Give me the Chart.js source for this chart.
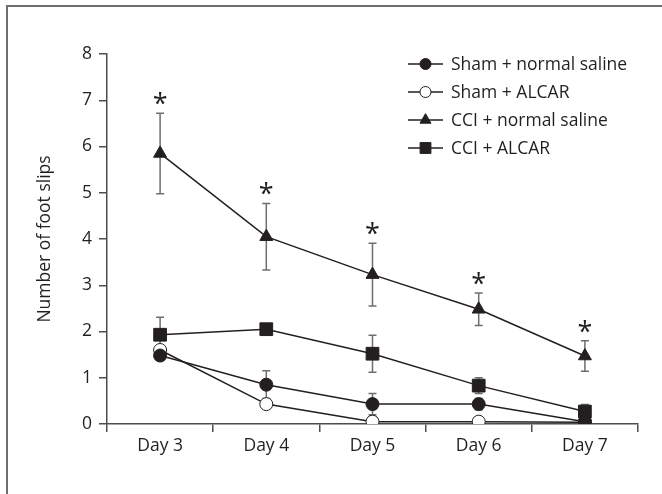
<!DOCTYPE html>
<html>
<head>
<meta charset="utf-8">
<script src="https://cdn.jsdelivr.net/npm/chart.js@4/dist/chart.umd.min.js"></script>
<style>
  html, body { margin: 0; padding: 0; background: #fff; }
  #wrap { width: 662px; height: 494px; position: relative; }
</style>
</head>
<body>
<div id="wrap"><canvas id="chart"></canvas></div>
<script>
// Data
const days = ['Day 3', 'Day 4', 'Day 5', 'Day 6', 'Day 7'];
const yTicks = [0, 1, 2, 3, 4, 5, 6, 7, 8];

const shamSaline = [1.48, 0.85, 0.43, 0.43, 0.05];
const shamSalineErr = [0.05, 0.3, 0.23, 0.12, 0.03];
const shamAlcar = [1.6, 0.43, 0.05, 0.05, 0.04];
const shamAlcarErr = [0.08, 0.03, 0.02, 0.02, 0.02];
const cciSaline = [5.85, 4.05, 3.23, 2.48, 1.47];
const cciSalineErr = [0.87, 0.72, 0.68, 0.35, 0.33];
const cciAlcar = [1.93, 2.05, 1.52, 0.83, 0.27];
const cciAlcarErr = [0.38, 0.08, 0.4, 0.17, 0.15];

// days marked as significant (CCI + normal saline)
const significant = [true, true, true, true, true];

const INK = '#231f20';
const FONT = "'Open Sans', sans-serif";
const FONT_SIZE = 17.5;

function series(label, data, err, style, radius, fill) {
    return {
        label: label,
        data: data,
        errors: err,
        borderColor: INK,
        borderWidth: 1.5,
        pointStyle: style,
        pointRadius: radius,
        pointHoverRadius: radius,
        pointBackgroundColor: fill,
        pointBorderColor: INK,
        pointBorderWidth: 1,
        tension: 0,
        fill: false
    };
}

// Outer frame (only top and left edges show in the crop)
const framePlugin = {
    id: 'frame',
    beforeDraw(chart) {
        const ctx = chart.ctx;
        ctx.save();
        ctx.strokeStyle = '#6d6e70';
        ctx.lineWidth = 2;
        ctx.beginPath();
        ctx.moveTo(7, 494);
        ctx.lineTo(7, 6);
        ctx.lineTo(662, 6);
        ctx.stroke();
        ctx.restore();
    }
};

// Error bars, drawn under the lines
const errorBarPlugin = {
    id: 'errorBars',
    beforeDatasetsDraw(chart) {
        const ctx = chart.ctx;
        const xs = chart.scales.x, ys = chart.scales.y;
        ctx.save();
        ctx.strokeStyle = '#6d6e70';
        ctx.lineWidth = 1.5;
        chart.data.datasets.forEach(ds => {
            ds.data.forEach((v, i) => {
                const e = ds.errors[i];
                const x = xs.getPixelForValue(i);
                const top = ys.getPixelForValue(v + e);
                const bot = ys.getPixelForValue(Math.max(v - e, 0));
                ctx.beginPath();
                ctx.moveTo(x, top); ctx.lineTo(x, bot);
                ctx.moveTo(x - 4, top); ctx.lineTo(x + 4, top);
                ctx.moveTo(x - 4, bot); ctx.lineTo(x + 4, bot);
                ctx.stroke();
            });
        });
        ctx.restore();
    }
};

// Asterisks above CCI + normal saline
const starPlugin = {
    id: 'stars',
    afterDatasetsDraw(chart) {
        const ctx = chart.ctx;
        const xs = chart.scales.x, ys = chart.scales.y;
        ctx.save();
        ctx.fillStyle = INK;
        ctx.font = '27px ' + FONT;
        ctx.textAlign = 'center';
        ctx.textBaseline = 'alphabetic';
        cciSaline.forEach((v, i) => {
            if (!significant[i]) return;
            const x = xs.getPixelForValue(i);
            const top = ys.getPixelForValue(v + cciSalineErr[i]);
            ctx.fillText('*', x, top);
        });
        ctx.restore();
    }
};

// Legend with line + marker symbols, top right
const legendPlugin = {
    id: 'lineLegend',
    afterDraw(chart) {
        const ctx = chart.ctx;
        ctx.save();
        chart.data.datasets.forEach((ds, i) => {
            const y = 64 + i * 28;
            ctx.strokeStyle = INK;
            ctx.lineWidth = 1.5;
            ctx.beginPath();
            ctx.moveTo(408, y); ctx.lineTo(443, y);
            ctx.stroke();
            ctx.fillStyle = ds.pointBackgroundColor;
            ctx.lineWidth = 1;
            Chart.helpers.drawPoint(ctx, {
                pointStyle: ds.pointStyle,
                radius: ds.pointRadius * 0.85,
                borderWidth: 1,
                rotation: 0
            }, 425.5, y);
            ctx.fillStyle = INK;
            ctx.font = FONT_SIZE + 'px ' + FONT;
            ctx.textAlign = 'left';
            ctx.textBaseline = 'middle';
            ctx.fillText(ds.label, 451, y + 1);
        });
        ctx.restore();
    }
};

const ctx = document.getElementById('chart').getContext('2d');
new Chart(ctx, {
    type: 'line',
    data: {
        labels: days,
        datasets: [
            series('Sham + normal saline', shamSaline, shamSalineErr, 'circle', 6.5, INK),
            series('Sham + ALCAR', shamAlcar, shamAlcarErr, 'circle', 6.5, '#ffffff'),
            series('CCI + normal saline', cciSaline, cciSalineErr, 'triangle', 7.5, INK),
            series('CCI + ALCAR', cciAlcar, cciAlcarErr, 'rect', 9, INK)
        ]
    },
    options: {
        responsive: true,
        maintainAspectRatio: false,
        animation: false,
        layout: { padding: { left: 32, top: 54, right: 24, bottom: 0 } },
        plugins: {
            legend: { display: false },
            tooltip: { enabled: false }
        },
        scales: {
            x: {
                type: 'category',
                offset: true,
                afterFit: s => { s.height = 70; },
                grid: {
                    offset: true,
                    drawOnChartArea: false,
                    drawTicks: true,
                    tickLength: 8,
                    color: '#4d4d4d',
                    lineWidth: 1.5
                },
                border: { color: '#4d4d4d', width: 1.5 },
                ticks: {
                    color: INK,
                    font: { family: FONT, size: FONT_SIZE },
                    padding: 4,
                    maxRotation: 0
                }
            },
            y: {
                min: 0,
                max: 8,
                afterFit: s => { s.width = 75; },
                afterBuildTicks: s => { s.ticks = yTicks.map(v => ({ value: v })); },
                grid: {
                    drawOnChartArea: false,
                    drawTicks: true,
                    tickLength: 8,
                    color: '#4d4d4d',
                    lineWidth: 1.5
                },
                border: { color: '#4d4d4d', width: 1.5 },
                ticks: {
                    color: INK,
                    font: { family: FONT, size: FONT_SIZE },
                    padding: 7
                },
                title: {
                    display: true,
                    text: 'Number of foot slips',
                    color: INK,
                    font: { family: FONT, size: FONT_SIZE },
                    padding: { top: 3, bottom: 4 }
                }
            }
        }
    },
    plugins: [framePlugin, errorBarPlugin, starPlugin, legendPlugin]
});
</script>
</body>
</html>
